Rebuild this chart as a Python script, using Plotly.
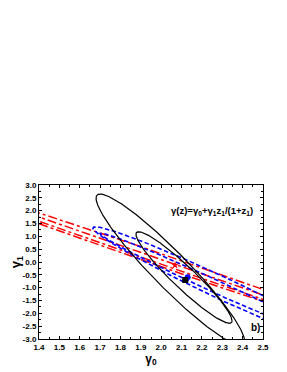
import numpy as np
import plotly.graph_objects as go

# ---- data ----
# confidence contours: centre (cx, cy), half extents (sx, sy), correlation rho
black_cx = [2.112, 2.045]
black_cy = [-0.605, -0.30]
black_sx = [0.236, 0.365]
black_sy = [1.785, 2.95]
black_rho = [-0.944, -0.944]

blue_cx = [2.28, 2.32]
blue_cy = [-1.00, -1.10]
blue_sx = [0.58, 0.655]
blue_sy = [2.1262, 2.4706]
blue_rho = [-0.9919, -0.9809]

red_cx = [2.068, 2.068]
red_cy = [-0.18, -0.12]
red_sx = [2.0, 2.0]
red_sy = [5.5408, 5.5258]
red_rho = [-0.999856, -0.99894]

# best-fit points
best_red = (2.068, -0.12)
best_blue = (2.13, -0.59)
best_black = (2.118, -0.70)

x_ticks = [1.4, 1.5, 1.6, 1.7, 1.8, 1.9, 2.0, 2.1, 2.2, 2.3, 2.4, 2.5]
x_ticktext = ["1.4", "1.5", "1.6", "1.7", "1.8", "1.9", "2.0", "2.1", "2.2", "2.3", "2.4", "2.5"]
y_ticks = [3.0, 2.5, 2.0, 1.5, 1.0, 0.5, 0.0, -0.5, -1.0, -1.5, -2.0, -2.5, -3.0]
y_ticktext = ["3.0", "2.5", "2.0", "1.5", "1.0", "0.5", "0.0", "-0.5", "-1.0", "-1.5", "-2.0", "-2.5", "-3.0"]

FONT = "Liberation Sans"


def ellipse(cx, cy, sx, sy, rho, n=600):
    t = np.linspace(0, 2 * np.pi, n)
    x = cx + sx * np.cos(t)
    y = cy + sy * (rho * np.cos(t) + np.sqrt(1 - rho ** 2) * np.sin(t))
    return x, y


fig = go.Figure()

for cx, cy, sx, sy, r in zip(red_cx, red_cy, red_sx, red_sy, red_rho):
    x, y = ellipse(cx, cy, sx, sy, r)
    fig.add_trace(go.Scatter(x=x, y=y, mode="lines",
                             line=dict(color="#ff0000", width=1.5, dash="dashdot"),
                             hoverinfo="skip"))

for cx, cy, sx, sy, r in zip(blue_cx, blue_cy, blue_sx, blue_sy, blue_rho):
    x, y = ellipse(cx, cy, sx, sy, r)
    fig.add_trace(go.Scatter(x=x, y=y, mode="lines",
                             line=dict(color="#0000ff", width=1.6, dash="4.5px,2.5px"),
                             hoverinfo="skip"))

for cx, cy, sx, sy, r in zip(black_cx, black_cy, black_sx, black_sy, black_rho):
    x, y = ellipse(cx, cy, sx, sy, r)
    fig.add_trace(go.Scatter(x=x, y=y, mode="lines",
                             line=dict(color="#000000", width=1.2),
                             hoverinfo="skip"))

fig.add_trace(go.Scatter(x=[best_red[0]], y=[best_red[1]], mode="markers",
                         marker=dict(symbol="star", size=6, color="#ff0000")))
fig.add_trace(go.Scatter(x=[best_blue[0]], y=[best_blue[1]], mode="markers",
                         marker=dict(symbol="circle", size=6, color="#0000ff")))
fig.add_trace(go.Scatter(x=[best_black[0]], y=[best_black[1]], mode="markers",
                         marker=dict(symbol="square", size=6, color="#000000")))

fig.add_annotation(x=2.25, y=1.99, xref="x", yref="y",
                   text="<b>γ(z)=γ<sub>0</sub>+γ<sub>1</sub>z<sub>1</sub>/(1+z<sub>1</sub>)</b>",
                   showarrow=False, font=dict(family=FONT, size=9.5, color="black"))
fig.add_annotation(x=2.463, y=-2.55, xref="x", yref="y", text="<b>b)</b>",
                   showarrow=False, font=dict(family=FONT, size=10, color="black"))

axis_common = dict(showline=True, linecolor="black", linewidth=1, mirror="ticks",
                   ticks="inside", ticklen=3, tickcolor="black", tickwidth=1,
                   showgrid=False, zeroline=False, automargin=False,
                   tickfont=dict(family=FONT, size=8, color="black"))

fig.update_xaxes(range=[1.4, 2.5], tickvals=x_ticks,
                 ticktext=["<b>%s</b>" % s for s in x_ticktext],
                 minor=dict(ticks="inside", ticklen=2, dtick=0.05, tick0=1.4,
                            tickcolor="black", showgrid=False),
                 title=dict(text="<b>γ<sub>0</sub></b>", standoff=2,
                            font=dict(family=FONT, size=12, color="black")),
                 **axis_common)
fig.update_yaxes(range=[-3.0, 3.0], tickvals=y_ticks,
                 ticktext=["<b>%s</b>" % s for s in y_ticktext],
                 minor=dict(ticks="inside", ticklen=2, dtick=0.25, tick0=0,
                            tickcolor="black", showgrid=False),
                 title=dict(text="<b>γ<sub>1</sub></b>", standoff=17,
                            font=dict(family=FONT, size=13, color="black")),
                 **axis_common)

# the page body adds an 8 px offset, so the figure is sized to fill the rest
fig.update_layout(width=279, height=364, showlegend=False,
                  margin=dict(l=31, r=24, t=177, b=33, pad=0),
                  plot_bgcolor="white", paper_bgcolor="white")

fig.write_html("out.html")
